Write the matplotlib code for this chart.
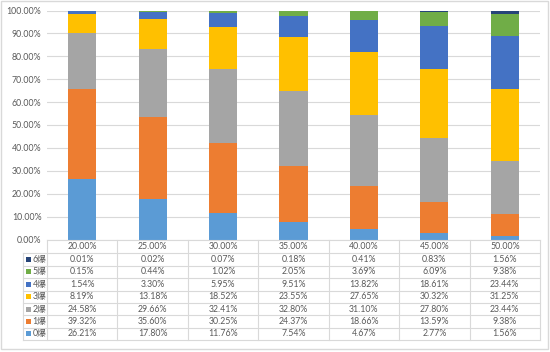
import matplotlib
matplotlib.use("Agg")
import matplotlib.pyplot as plt
from matplotlib.patches import Rectangle
from matplotlib.lines import Line2D
import numpy as np

plt.rcParams['font.family'] = ['Lato', 'Noto Sans CJK SC', 'DejaVu Sans']

categories = ["20.00%", "25.00%", "30.00%", "35.00%", "40.00%", "45.00%", "50.00%"]
series_names = ["0爆", "1爆", "2爆", "3爆", "4爆", "5爆", "6爆"]
s0 = [26.21, 17.80, 11.76, 7.54, 4.67, 2.77, 1.56]
s1 = [39.32, 35.60, 30.25, 24.37, 18.66, 13.59, 9.38]
s2 = [24.58, 29.66, 32.41, 32.80, 31.10, 27.80, 23.44]
s3 = [8.19, 13.18, 18.52, 23.55, 27.65, 30.32, 31.25]
s4 = [1.54, 3.30, 5.95, 9.51, 13.82, 18.61, 23.44]
s5 = [0.15, 0.44, 1.02, 2.05, 3.69, 6.09, 9.38]
s6 = [0.01, 0.02, 0.07, 0.18, 0.41, 0.83, 1.56]
series = [s0, s1, s2, s3, s4, s5, s6]
colors = ["#5B9BD5", "#ED7D31", "#A5A5A5", "#FFC000", "#4472C4", "#70AD47", "#264478"]

W, H = 550, 352
fig = plt.figure(figsize=(W / 100, H / 100), dpi=100)
txt = "#595959"
grid = "#D9D9D9"

ax_l, ax_r, ax_t, ax_b = 47, 540, 10.5, 239.5
ax = fig.add_axes([ax_l / W, 1 - ax_b / H, (ax_r - ax_l) / W, (ax_b - ax_t) / H])
x = np.arange(len(categories))
bottom = np.zeros(len(categories))
for vals, c in zip(series, colors):
    v = np.array(vals) / 100.0
    ax.bar(x, v, 0.4, bottom=bottom, color=c, zorder=3)
    bottom += v
ax.set_xlim(-0.5, len(categories) - 0.5)
ax.set_ylim(0, 1)
ax.set_yticks(np.arange(0, 1.01, 0.1))
ax.set_yticklabels([f"{t*100:.2f}%" for t in np.arange(0, 1.01, 0.1)], color=txt, fontsize=6.3)
ax.tick_params(axis='y', length=0, pad=4)
ax.set_xticks([])
ax.grid(axis='y', color=grid, linewidth=0.8, zorder=0)
for s in ax.spines.values():
    s.set_visible(False)

# data table
def fx(px):
    return px / W

def fy(py):
    return 1 - py / H

col_w = (ax_r - ax_l) / len(categories)
head_top, head_bot = 239.5, 253.3
row_h = 12.4
leg_l = 23
nrows = len(series)
tbl_bot = head_bot + nrows * row_h
lc = "#D9D9D9"
# horizontal lines
fig.add_artist(Line2D([fx(ax_l), fx(ax_r)], [fy(head_top)] * 2, color=lc, lw=0.8))
for i in range(nrows + 1):
    yy = head_bot + i * row_h
    fig.add_artist(Line2D([fx(leg_l), fx(ax_r)], [fy(yy)] * 2, color=lc, lw=0.8))
# vertical lines
for j in range(len(categories) + 1):
    xx = ax_l + j * col_w
    fig.add_artist(Line2D([fx(xx)] * 2, [fy(head_top), fy(tbl_bot)], color=lc, lw=0.8))
fig.add_artist(Line2D([fx(leg_l)] * 2, [fy(head_bot), fy(tbl_bot)], color=lc, lw=0.8))

for j, cat in enumerate(categories):
    fig.text(fx(ax_l + (j + 0.5) * col_w), fy((head_top + head_bot) / 2), cat,
             ha='center', va='center', fontsize=6.3, color=txt)

for i in range(nrows):
    k = nrows - 1 - i
    yc = head_bot + (i + 0.5) * row_h
    fig.add_artist(Rectangle((fx(leg_l + 3), fy(yc + 2.5)), 5 / W, 5 / H,
                             facecolor=colors[k], edgecolor='none', transform=fig.transFigure))
    fig.text(fx(leg_l + 9.5), fy(yc), series_names[k], ha='left', va='center',
             fontsize=6.3, color=txt)
    for j in range(len(categories)):
        fig.text(fx(ax_l + (j + 0.5) * col_w), fy(yc), f"{series[k][j]:.2f}%",
                 ha='center', va='center', fontsize=6.3, color=txt)

# chart border
fig.add_artist(Rectangle((fx(1), fy(349)), (W - 3) / W, 348 / H, fill=False,
                         edgecolor="#D9D9D9", lw=1, transform=fig.transFigure))

fig.savefig("out.png", dpi=100, facecolor="white")
